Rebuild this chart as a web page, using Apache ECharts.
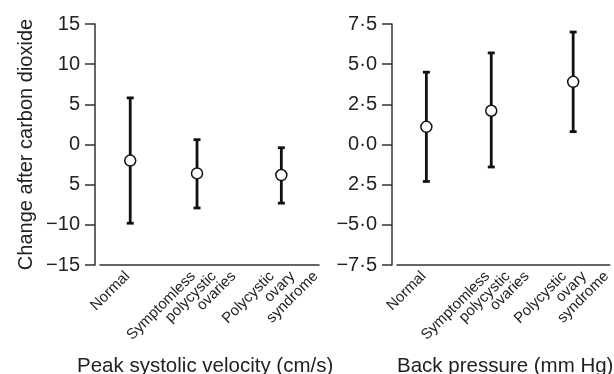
<!DOCTYPE html>
<html>
<head>
<meta charset="utf-8">
<script src="https://cdn.jsdelivr.net/npm/echarts@6/dist/echarts.min.js"></script>
<style>
  html, body { margin: 0; padding: 0; background: #fff; }
  #chart { width: 614px; height: 374px; }
</style>
</head>
<body>
<div id="chart"></div>
<script>
// groups, one label line per entry
const groupLines = [
  ["Normal"],
  ["Symptomless", "polycystic", "ovaries"],
  ["Polycystic", "ovary", "syndrome"]
];

// Peak systolic velocity (cm/s)
const psvMean = [-2.0, -3.6, -3.8];
const psvLow = [-9.8, -7.9, -7.3];
const psvHigh = [5.8, 0.6, -0.4];
const psvTickLabels = ["\u221215", "\u221210", "5", "0", "5", "10", "15"];

// Back pressure (mm Hg)
const bpMean = [1.1, 2.1, 3.9];
const bpLow = [-2.3, -1.4, 0.8];
const bpHigh = [4.5, 5.7, 7.0];
const bpTickLabels = ["\u22127\u00b75", "\u22125\u00b70", "2\u00b75", "0\u00b70", "2\u00b75", "5\u00b70", "7\u00b75"];

// layout: where groups / label lines sit along the 0..1 x axis
const groupX = [0.138, 0.443, 0.828];
const lineX = [[0.125], [0.425, 0.52, 0.61], [0.785, 0.88, 0.985]];

const FONT = "Liberation Sans";
const INK = "#111";

const chart = echarts.init(document.getElementById("chart"));

const labelList = [];
lineX.forEach((xs, g) => xs.forEach((x, i) => labelList.push([x, groupLines[g][i]])));
const labelValues = labelList.map((d) => d[0]);

function labelFor(v) {
  let best = labelList[0];
  labelList.forEach((d) => { if (Math.abs(d[0] - v) < Math.abs(best[0] - v)) best = d; });
  return Math.abs(best[0] - v) < 0.01 ? best[1] : "";
}

function xAxisFor(gridIndex) {
  return {
    gridIndex,
    type: "value",
    min: 0,
    max: 1,
    splitLine: { show: false },
    axisTick: { show: false },
    axisLine: { onZero: false, lineStyle: { color: "#333", width: 1.5 } },
    axisLabel: {
      customValues: labelValues,
      formatter: labelFor,
      rotate: 45,
      margin: 9,
      hideOverlap: false,
      showMinLabel: true,
      showMaxLabel: true,
      fontFamily: FONT,
      fontSize: 15,
      color: "#222"
    }
  };
}

function yAxisFor(gridIndex, min, max, interval, labels) {
  return {
    gridIndex,
    type: "value",
    min, max, interval,
    offset: 5,
    splitLine: { show: false },
    axisLine: { show: true, onZero: false, lineStyle: { color: "#333", width: 1.5 } },
    axisTick: { show: true, length: 10, lineStyle: { color: "#333", width: 1.5 } },
    axisLabel: {
      margin: 15,
      fontFamily: FONT,
      fontSize: 20,
      color: "#222",
      formatter: (v) => labels[Math.round((v - min) / interval)]
    }
  };
}

function errorBars(idx, low, high) {
  return {
    type: "custom",
    xAxisIndex: idx,
    yAxisIndex: idx,
    data: groupX.map((x, i) => [x, low[i], high[i]]),
    renderItem: (params, api) => {
      const top = api.coord([api.value(0), api.value(2)]);
      const bot = api.coord([api.value(0), api.value(1)]);
      const w = 3.5;
      const style = { stroke: INK, lineWidth: 2.8 };
      return {
        type: "group",
        children: [
          { type: "line", shape: { x1: top[0], y1: top[1], x2: bot[0], y2: bot[1] }, style },
          { type: "line", shape: { x1: top[0] - w, y1: top[1], x2: top[0] + w, y2: top[1] }, style },
          { type: "line", shape: { x1: bot[0] - w, y1: bot[1], x2: bot[0] + w, y2: bot[1] }, style }
        ]
      };
    },
    z: 2
  };
}

function means(idx, mean) {
  return {
    type: "scatter",
    xAxisIndex: idx,
    yAxisIndex: idx,
    data: groupX.map((x, i) => [x, mean[i]]),
    symbol: "circle",
    symbolSize: 11,
    itemStyle: { color: "#fff", borderColor: INK, borderWidth: 1.5, opacity: 1 },
    z: 3
  };
}

chart.setOption({
  animation: false,
  title: [
    {
      text: "Peak systolic velocity (cm/s)",
      left: 72, top: 351,
      textStyle: { fontFamily: FONT, fontSize: 20.5, fontWeight: "normal", color: "#222" }
    },
    {
      text: "Back pressure (mm Hg)",
      left: 392, top: 351,
      textStyle: { fontFamily: FONT, fontSize: 20.5, fontWeight: "normal", color: "#222" }
    }
  ],
  grid: [
    { left: 100, top: 24, width: 219, height: 241 },
    { left: 397, top: 24, width: 217, height: 241 }
  ],
  xAxis: [xAxisFor(0), xAxisFor(1)],
  yAxis: [
    Object.assign(yAxisFor(0, -15, 15, 5, psvTickLabels), {
      name: "Change after carbon dioxide",
      nameLocation: "middle",
      nameGap: 59,
      nameTextStyle: { fontFamily: FONT, fontSize: 20, color: "#222" }
    }),
    yAxisFor(1, -7.5, 7.5, 2.5, bpTickLabels)
  ],
  series: [
    errorBars(0, psvLow, psvHigh),
    means(0, psvMean),
    errorBars(1, bpLow, bpHigh),
    means(1, bpMean)
  ]
});
</script>
</body>
</html>
